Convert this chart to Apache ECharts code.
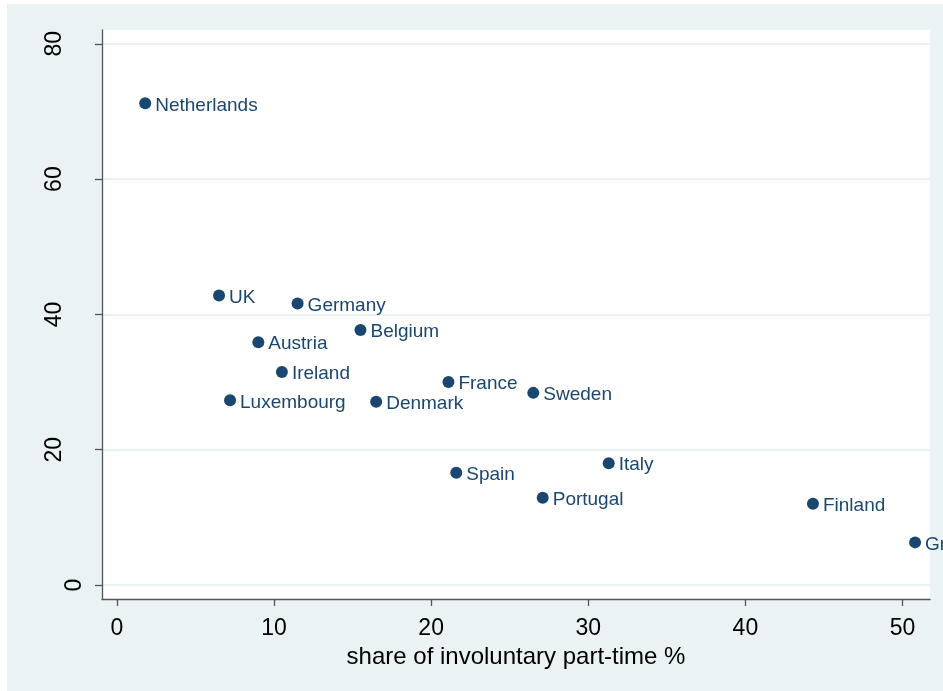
<!DOCTYPE html>
<html>
<head>
<meta charset="utf-8">
<script src="https://cdn.jsdelivr.net/npm/echarts@6/dist/echarts.min.js"></script>
<style>
  html, body { margin: 0; padding: 0; background: #fff; }
  #chart { width: 943px; height: 691px; }
</style>
</head>
<body>
<div id="chart"></div>
<script>
// countries and values
const countries = ['Netherlands', 'UK', 'Germany', 'Belgium', 'Austria', 'Ireland', 'Luxembourg',
  'Denmark', 'France', 'Sweden', 'Spain', 'Italy', 'Portugal', 'Finland', 'Greece']
// share of involuntary part-time %
const involuntary = [1.8, 6.5, 11.5, 15.5, 9.0, 10.5, 7.2, 16.5, 21.1, 26.5, 21.6, 31.3, 27.1, 44.3, 50.8]
// y values
const shareY = [71.2, 42.8, 41.6, 37.7, 35.9, 31.5, 27.3, 27.1, 30.0, 28.4, 16.6, 18.0, 12.9, 12.0, 6.3]
const xTicks = [0, 10, 20, 30, 40, 50]
const yTicks = [0, 20, 40, 60, 80]

const navy = '#1a476f'
const bg = '#eaf2f3'
const axisGrey = '#555555'
const font = 'Liberation Sans, Arial'

const chart = echarts.init(document.getElementById('chart'))

const points = countries.map((name, i) => ({ name: name, value: [involuntary[i], shareY[i]] }))

const option = {
  backgroundColor: '#ffffff',
  animation: false,
  graphic: [
    {
      type: 'rect',
      z: -10,
      shape: { x: 7, y: 4, width: 936, height: 687 },
      style: { fill: bg }
    }
  ],
  grid: {
    left: 102,
    right: 13,
    top: 30,
    bottom: 92,
    show: true,
    backgroundColor: '#ffffff',
    borderWidth: 0
  },
  xAxis: {
    type: 'value',
    min: -0.95,
    max: 51.75,
    name: 'share of involuntary part-time %',
    nameLocation: 'middle',
    nameGap: 42,
    nameTextStyle: { fontFamily: font, fontSize: 24, color: '#000' },
    axisLine: { show: true, onZero: false, lineStyle: { color: axisGrey, width: 1.3 } },
    axisTick: { show: true, length: 7, lineStyle: { color: axisGrey, width: 1.3 }, customValues: xTicks },
    axisLabel: {
      customValues: xTicks,
      margin: 18,
      fontFamily: font,
      fontSize: 23,
      color: '#000'
    },
    splitLine: { show: false }
  },
  yAxis: {
    type: 'value',
    min: -2.07,
    max: 82.04,
    axisLine: { show: true, onZero: false, lineStyle: { color: axisGrey, width: 1.3 } },
    axisTick: { show: true, length: 7, lineStyle: { color: axisGrey, width: 1.3 }, customValues: yTicks },
    axisLabel: {
      customValues: yTicks,
      rotate: 90,
      margin: 16,
      fontFamily: font,
      fontSize: 23,
      color: '#000',
      // the zero label sits closer to the axis in the original
      formatter: v => (v === 0 ? '{z|0}' : '{n|' + v + '}'),
      rich: {
        z: { fontFamily: font, fontSize: 23, color: '#000' },
        n: { fontFamily: font, fontSize: 23, color: '#000', padding: [0, 0, 20, 0] }
      }
    },
    splitLine: { show: true, lineStyle: { color: bg, width: 2 } }
  },
  series: [
    {
      type: 'scatter',
      data: points,
      symbol: 'circle',
      symbolSize: 12,
      itemStyle: { color: navy, opacity: 1 },
      label: {
        show: true,
        position: 'right',
        distance: 4,
        offset: [0, 2],
        formatter: '{b}',
        fontFamily: font,
        fontSize: 19,
        color: navy
      },
      clip: false
    }
  ]
}

chart.setOption(option)
</script>
</body>
</html>
